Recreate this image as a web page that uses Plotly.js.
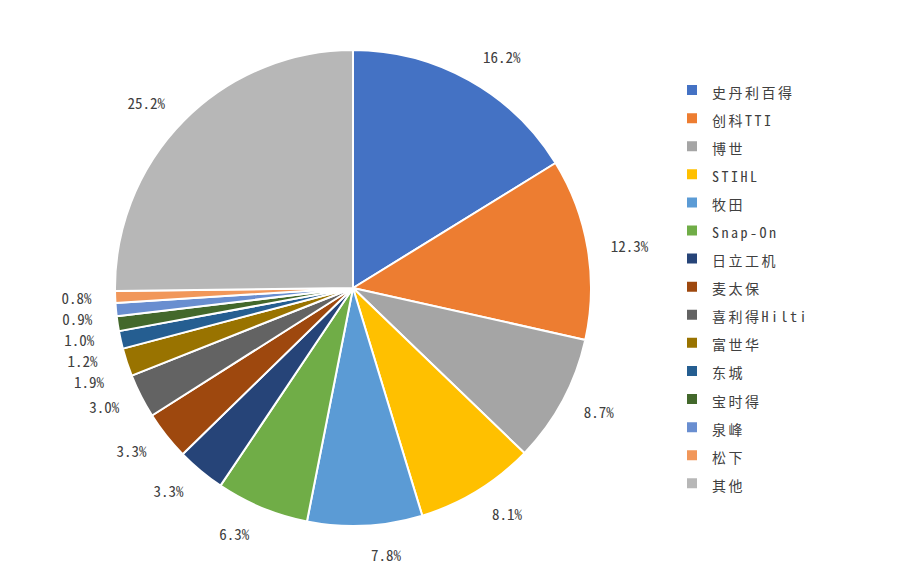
<!DOCTYPE html>
<html>
<head>
<meta charset="utf-8">
<script src="https://cdn.plot.ly/plotly-3.0.1.min.js"></script>
<style>html,body{margin:0;padding:0;background:#fff;}#chart{width:907px;height:568px;}path.textline{display:none;}</style>
</head>
<body>
<div id="chart"></div>
<script>
const categories = ['史丹利百得','创科TTI','博世','STIHL','牧田','Snap-On','日立工机','麦太保','喜利得Hilti','富世华','东城','宝时得','泉峰','松下','其他'];
const shares = [16.2, 12.3, 8.7, 8.1, 7.8, 6.3, 3.3, 3.3, 3.0, 1.9, 1.2, 1.0, 0.9, 0.8, 25.2];
const colors = ['#4472C4','#ED7D31','#A5A5A5','#FFC000','#5B9BD5','#70AD47','#264478','#9E480E','#636363','#997300','#255E91','#43682B','#698ED0','#F1975A','#B7B7B7'];

const monoFont = "'Noto Sans Mono CJK SC', 'DejaVu Sans Mono', 'Noto Sans CJK SC', monospace";
const legendLabels = categories.map(c => '<span style="font-size:14px;letter-spacing:2.5px">' + c + '</span>');

// visible pie
const pie = {
  type: 'pie',
  labels: legendLabels,
  values: shares,
  sort: false,
  direction: 'clockwise',
  rotation: 0,
  marker: {colors: colors, line: {color: '#ffffff', width: 2}},
  textinfo: 'none',
  hoverinfo: 'label+value',
  domain: {x: [115/907, 591/907], y: [42/568, 518/568]}
};

// transparent companion pie that only carries the outside data labels a little farther out
const rl = 256;
const labelPie = {
  type: 'pie',
  labels: legendLabels,
  values: shares,
  sort: false,
  direction: 'clockwise',
  rotation: 0,
  showlegend: false,
  marker: {colors: shares.map(() => 'rgba(0,0,0,0)'), line: {width: 0}},
  texttemplate: '%{value:.1f}%',
  textposition: 'outside',
  outsidetextfont: {family: monoFont, size: 15, color: '#404040'},
  hoverinfo: 'skip',
  domain: {x: [(353-rl)/907, (353+rl)/907], y: [(280-rl)/568, (280+rl)/568]}
};

const layout = {
  width: 907, height: 568,
  margin: {l: 0, r: 0, t: 0, b: 0, autoexpand: false},
  paper_bgcolor: '#ffffff',
  showlegend: true,
  legend: {
    x: 672/907, xanchor: 'left', y: 1 - 71/568, yanchor: 'top',
    font: {family: monoFont, size: 19.3, color: '#404040'},
    bgcolor: 'rgba(0,0,0,0)'
  }
};

Plotly.newPlot('chart', [pie, labelPie], layout, {displayModeBar: false, staticPlot: true});
</script>
</body>
</html>
